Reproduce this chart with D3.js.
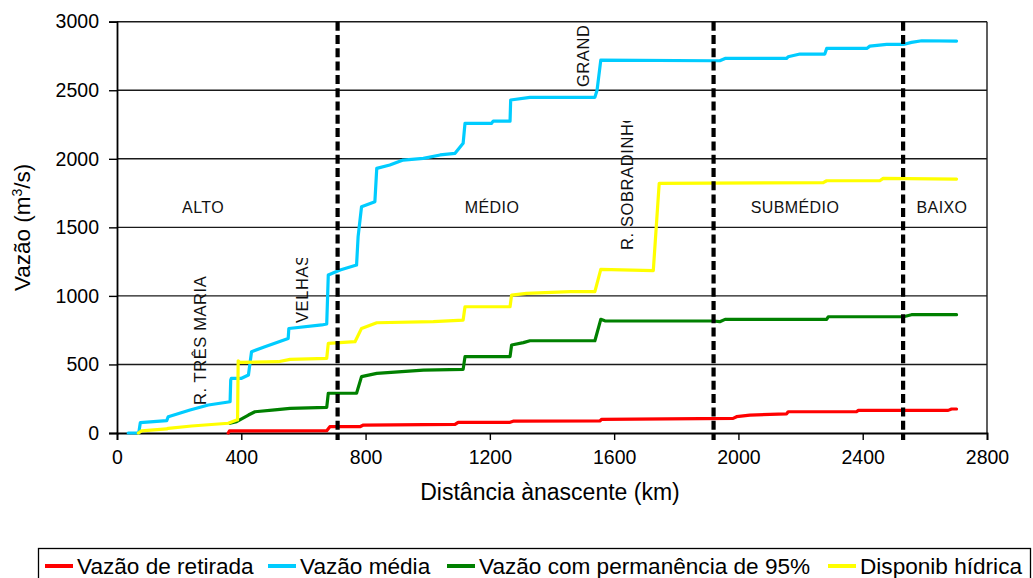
<!DOCTYPE html>
<html><head><meta charset="utf-8">
<script src="https://cdn.jsdelivr.net/npm/d3@7"></script>
<style>
body{margin:0;background:#fff}
svg{display:block;font-family:"Liberation Sans",Arial,sans-serif}
</style>
</head><body>
<svg id="chart" width="1033" height="578"></svg>
<script>
// ---- data (km from source, m3/s) ----
const vazaoRetirada = [[358,0],[362,15],[675,17],[685,46],[782,46],[793,58],[1088,63],[1098,78],[1265,78],[1275,86],[1554,88],[1560,100],[1983,107],[1994,119],[2037,131],[2155,139],[2160,155],[2380,155],[2386,165],[2675,165],[2686,175],[2702,175]];
const vazaoMedia = [[36,0],[70,0],[75,75],[160,90],[165,119],[235,168],[294,204],[364,228],[366,387],[368,399],[401,399],[423,423],[433,593],[476,629],[551,690],[553,762],[659,788],[675,795],[680,1152],[718,1189],[771,1225],[776,1432],[787,1650],[830,1687],[836,1930],[878,1955],[921,1991],[986,2003],[1040,2028],[1088,2040],[1114,2113],[1120,2258],[1205,2258],[1211,2275],[1265,2275],[1267,2429],[1329,2448],[1538,2448],[1545,2500],[1557,2720],[1919,2715],[1940,2715],[1957,2732],[2155,2732],[2160,2744],[2198,2764],[2278,2764],[2284,2805],[2413,2805],[2423,2822],[2477,2834],[2531,2834],[2557,2849],[2590,2861],[2702,2859]];
const vazao95 = [[364,71],[385,83],[423,131],[444,155],[508,168],[557,180],[675,187],[680,290],[771,290],[787,411],[836,435],[986,459],[1114,464],[1120,557],[1265,557],[1270,642],[1308,659],[1329,673],[1538,673],[1557,829],[1570,818],[1919,817],[1940,812],[1957,829],[2284,829],[2289,848],[2531,848],[2557,863],[2702,863]];
const disponibHidrica = [[69,0],[79,15],[160,30],[165,34],[240,51],[358,71],[385,95],[388,95],[390,527],[395,515],[519,520],[557,537],[675,545],[680,654],[766,666],[787,763],[836,804],[1018,812],[1114,824],[1120,921],[1265,921],[1270,1006],[1318,1019],[1458,1031],[1538,1031],[1557,1194],[1726,1184],[1745,1821],[2273,1826],[2284,1840],[2455,1840],[2466,1857],[2702,1852]];

const seriesNames = ["Vazão de retirada","Vazão média","Vazão com permanência de 95%","Disponib hídrica"];
const seriesColors = ["#ff0000","#00ccff","#008000","#ffff00"];
const seriesData = [vazaoRetirada, vazaoMedia, vazao95, disponibHidrica];

const xTicks = [0,400,800,1200,1600,2000,2400,2800];
const yTicks = [0,500,1000,1500,2000,2500,3000];
const dividers = [710,1920,2530];
const regionNames = ["ALTO","MÉDIO","SUBMÉDIO","BAIXO"];
const regionKm = [277,1207,2182,2655];
const regionValue = 1603;
const placeNames = ["R. TRÊS MARIA","VELHAS","GRANDE","R. SOBRADINHO"];
const placeKm = [286,614,1519,1660];
const placeBase = [204,802,2523,1335];
const placeClipTop = [2000,1276,2983,2275];

// ---- layout ----
const svg = d3.select("#chart");
const L = 117, R = 987, T = 21.7, B = 433;
const x = d3.scaleLinear().domain([0,2800]).range([L,R]);
const y = d3.scaleLinear().domain([0,3000]).range([B,T]);

// gridlines
svg.append("g").selectAll("line").data(yTicks.filter(d=>d>0)).join("line")
  .attr("x1",L).attr("x2",R).attr("y1",d=>y(d)).attr("y2",d=>y(d))
  .attr("stroke","#1a1a1a").attr("stroke-width",1.4);
// right border
svg.append("line").attr("x1",R).attr("x2",R).attr("y1",T).attr("y2",B)
  .attr("stroke","#1a1a1a").attr("stroke-width",1.4);

// axes
const xAxis = svg.append("g").attr("transform",`translate(0,${B})`)
  .call(d3.axisBottom(x).tickValues(xTicks).tickSize(7).tickPadding(10).tickFormat(d3.format("d")));
const yAxis = svg.append("g").attr("transform",`translate(${L},0)`)
  .call(d3.axisLeft(y).tickValues(yTicks).tickSize(8).tickPadding(10).tickFormat(d3.format("d")));
[xAxis,yAxis].forEach(g=>{
  g.select(".domain").attr("stroke","#000").attr("stroke-width",1.8);
  g.selectAll(".tick line").attr("stroke","#000").attr("stroke-width",1.4);
  g.selectAll("text").attr("font-size",19.5).attr("fill","#000")
    .attr("font-family","'Liberation Sans',Arial,sans-serif");
});

// axis titles
svg.append("text").attr("x",(L+R)/2 - 2).attr("y",500).attr("text-anchor","middle")
  .attr("font-size",23).text("Distância ànascente (km)");
const yt = svg.append("text").attr("transform",`translate(30,${(T+B)/2}) rotate(-90)`)
  .attr("text-anchor","middle").attr("font-size",22.5);
yt.append("tspan").text("Vazão (m");
yt.append("tspan").attr("font-size",14).attr("dy",-8).text("3");
yt.append("tspan").attr("dy",8).text("/s)");

// series
const line = d3.line().x(d=>x(d[0])).y(d=>y(d[1]));
svg.append("g").selectAll("path").data(seriesData).join("path")
  .attr("d",line).attr("fill","none")
  .attr("stroke",(d,i)=>seriesColors[i]).attr("stroke-width",3.2)
  .attr("stroke-linejoin","round").attr("stroke-linecap","round");

// dividers
svg.append("g").selectAll("line").data(dividers).join("line")
  .attr("x1",d=>x(d)).attr("x2",d=>x(d)).attr("y1",y(3000)).attr("y2",B+7)
  .attr("stroke","#000").attr("stroke-width",4.2).attr("stroke-dasharray","9,4.3");

// region labels
svg.append("g").selectAll("text").data(regionNames).join("text")
  .attr("x",(d,i)=>x(regionKm[i])).attr("y",y(regionValue))
  .attr("text-anchor","middle").attr("font-size",16).attr("fill","#111").attr("letter-spacing",0.4)
  .text(d=>d);

// rotated place labels (clipped like text boxes)
const defs = svg.append("defs");
placeNames.forEach((name,i)=>{
  const id = "clip"+i;
  defs.append("clipPath").attr("id",id).append("rect")
    .attr("x",x(placeKm[i])-20).attr("width",30)
    .attr("y",y(placeClipTop[i])).attr("height",y(placeBase[i])-y(placeClipTop[i])+6);
  svg.append("g").attr("clip-path",`url(#${id})`).append("text")
    .attr("transform",`translate(${x(placeKm[i])},${y(placeBase[i])}) rotate(-90)`)
    .attr("font-size",16.5).attr("fill","#111").attr("letter-spacing",0.6)
    .text(name);
});

// legend
const lg = svg.append("g");
lg.append("rect").attr("x",38.5).attr("y",548.5).attr("width",992).attr("height",40)
  .attr("fill","#fff").attr("stroke","#000").attr("stroke-width",1.3);
const legX = [45,268,447,828];
seriesNames.forEach((name,i)=>{
  lg.append("line").attr("x1",legX[i]).attr("x2",legX[i]+28).attr("y1",566).attr("y2",566)
    .attr("stroke",seriesColors[i]).attr("stroke-width",4);
  lg.append("text").attr("x",legX[i]+32).attr("y",574).attr("font-size",22.6).attr("fill","#000").text(name);
});
</script>
</body></html>
